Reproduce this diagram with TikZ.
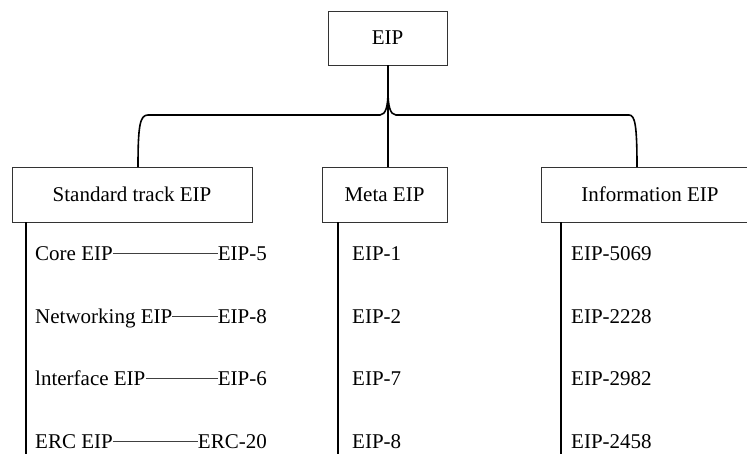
\documentclass[tikz,border=0pt]{standalone}
\usepackage{fontspec}
\setmainfont{Liberation Serif}
\begin{document}
\begin{tikzpicture}[x=1pt,y=-1pt,
  box/.style={draw=black!80,line width=0.9pt,inner sep=0pt},
  item/.style={inner sep=0pt,text height=13.5pt,text depth=0pt},
  stem/.style={line width=1.6pt,black},
  dashline/.style={line width=0.7pt,black!75},
  every node/.style={font=\fontsize{21}{25}\selectfont}]
\useasboundingbox (0,0) rectangle (747,453);
\clip (0,0) rectangle (747,453);
% boxes
\node[box,minimum width=119pt,minimum height=54pt] (eip) at (387.5,38) {EIP};
\node[box,minimum width=240pt,minimum height=55pt] (std) at (132,194.5) {Standard track EIP};
\node[box,minimum width=125pt,minimum height=55pt] (meta) at (384.5,194.5) {Meta EIP};
\node[box,minimum width=218pt,minimum height=55pt] (info) at (650,194.5) {Information EIP};
% brace
\coordinate (bl) at (138,167);
\coordinate (br) at (637,167);
\coordinate (cusp) at (388,92);
\draw[stem] (bl) .. controls (138,125) and (140,115) .. (148,115) -- (380,115)
  .. controls (386,115) and (388,105) .. (cusp)
  .. controls (388,105) and (390,115) .. (396,115) -- (629,115)
  .. controls (635,115) and (637,125) .. (br);
\draw[stem] (eip.south -| cusp) -- (meta.north -| cusp);
% vertical stems
\coordinate (sb) at (26,460);
\coordinate (mb) at (338,460);
\coordinate (ib) at (561,460);
\draw[stem] (std.south -| sb) -- (sb);
\draw[stem] (meta.south -| mb) -- (mb);
\draw[stem] (info.south -| ib) -- (ib);
% standard track items
\node[item,anchor=base west] (c1) at (35,260) {Core EIP};
\node[item,anchor=base east] (c2) at (267,260) {EIP-5};
\node[item,anchor=base west] (n1) at (35,323) {Networking EIP};
\node[item,anchor=base east] (n2) at (267,323) {EIP-8};
\node[item,anchor=base west] (f1) at (35,385) {lnterface EIP};
\node[item,anchor=base east] (f2) at (267,385) {EIP-6};
\node[item,anchor=base west] (e1) at (35,448) {ERC EIP};
\node[item,anchor=base east] (e2) at (267,448) {ERC-20};
\draw[dashline] (c1.east) -- (c2.west);
\draw[dashline] (n1.east) -- (n2.west);
\draw[dashline] (f1.east) -- (f2.west);
\draw[dashline] (e1.east) -- (e2.west);
% meta items
\node[item,anchor=base west] (m1) at (352,260) {EIP-1};
\node[item,anchor=base west] (m2) at (352,323) {EIP-2};
\node[item,anchor=base west] (m3) at (352,385) {EIP-7};
\node[item,anchor=base west] (m4) at (352,448) {EIP-8};
% information items
\node[item,anchor=base west] (i1) at (571,260) {EIP-5069};
\node[item,anchor=base west] (i2) at (571,323) {EIP-2228};
\node[item,anchor=base west] (i3) at (571,385) {EIP-2982};
\node[item,anchor=base west] (i4) at (571,448) {EIP-2458};
\end{tikzpicture}
\end{document}
